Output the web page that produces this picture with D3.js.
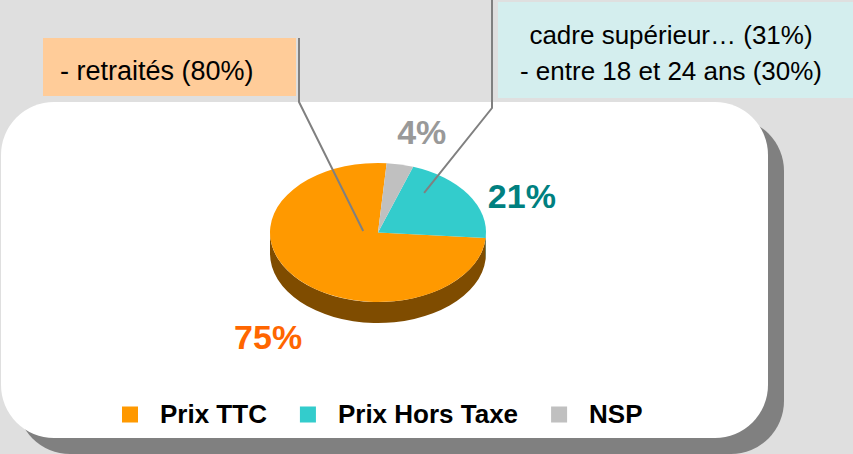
<!DOCTYPE html>
<html>
<head>
<meta charset="utf-8">
<script src="https://cdn.jsdelivr.net/npm/d3@7"></script>
<style>
  body { margin: 0; background: #dfdfdf; overflow: hidden; }
  svg { display: block; }
</style>
</head>
<body>
<div id="chart"></div>
<script>
// Data
const categories = ['Prix TTC', 'Prix Hors Taxe', 'NSP']
const values = [75, 21, 4]
const valueLabels = ['75%', '21%', '4%']
const orangeNote = ['- retraités (80%)']
const tealNote = ['cadre supérieur… (31%)', '- entre 18 et 24 ans (30%)']

// Colors
const topColors = ['#ff9900', '#33cccc', '#c0c0c0']
const sideColors = ['#7f4c00', '#1a6666', '#606060']
const labelColors = ['#ff6600', '#008080', '#999999']

function draw() {
  const dims = { width: 853, height: 454 }
  const font = "'Liberation Sans', Arial, sans-serif"

  const svg = d3.select('#chart')
    .append('svg')
    .attr('width', dims.width)
    .attr('height', dims.height)

  svg.append('rect')
    .attr('width', dims.width)
    .attr('height', dims.height)
    .attr('fill', '#dfdfdf')

  // panel + shadow
  const panel = { x: 1, y: 102, w: 767, h: 336, r: 53, off: 16 }
  svg.append('rect')
    .attr('x', panel.x + panel.off).attr('y', panel.y + panel.off)
    .attr('width', panel.w).attr('height', panel.h)
    .attr('rx', panel.r)
    .attr('fill', '#808080')
  svg.append('rect')
    .attr('x', panel.x).attr('y', panel.y)
    .attr('width', panel.w).attr('height', panel.h)
    .attr('rx', panel.r)
    .attr('fill', '#ffffff')

  // note boxes
  svg.append('rect')
    .attr('x', 43).attr('y', 38).attr('width', 253).attr('height', 58)
    .attr('fill', '#ffcc99')
  svg.append('text')
    .attr('x', 60).attr('y', 80)
    .style('font-family', font)
    .style('font-size', '27px')
    .attr('fill', '#000')
    .text(orangeNote[0])

  svg.append('rect')
    .attr('x', 498).attr('y', 2).attr('width', 360).attr('height', 96)
    .attr('fill', '#d4eeee')
  svg.append('g')
    .selectAll('text')
    .data(tealNote)
    .join('text')
    .attr('x', 671)
    .attr('y', (d, i) => 44 + i * 36)
    .attr('text-anchor', 'middle')
    .style('font-family', font)
    .style('font-size', '26px')
    .attr('fill', '#000')
    .text(d => d)

  // 3D pie
  const pie3d = { cx: 378, cy: 232.5, rx: 108, ry: 69.5, depth: 21 }
  const k = pie3d.ry / pie3d.rx

  const pie = d3.pie()
    .value(d => d)
    .sort(null)
    .startAngle(2 * Math.PI + 4.6 * Math.PI / 180)
    .endAngle(4.6 * Math.PI / 180)

  const slices = pie(values)
  // normalise so a0 < a1 (angles 0 at top, clockwise)
  const norm = slices.map((s, i) => ({
    i,
    a0: Math.min(s.startAngle, s.endAngle),
    a1: Math.max(s.startAngle, s.endAngle)
  }))

  const arc = d3.arc().innerRadius(0).outerRadius(pie3d.rx)

  const pieG = svg.append('g')
    .attr('transform', `translate(${pie3d.cx}, ${pie3d.cy}) scale(1, ${k})`)

  // side walls, only the front half (PI/2 .. 3PI/2) shows
  const dz = pie3d.depth / k
  norm.forEach(s => {
    [0, -2 * Math.PI].forEach(shift => {
      const a = Math.max(s.a0 + shift, Math.PI / 2)
      const b = Math.min(s.a1 + shift, 3 * Math.PI / 2)
      if (b <= a) return
      const r = pie3d.rx
      const p = d3.path()
      p.moveTo(r * Math.sin(a), -r * Math.cos(a))
      p.arc(0, 0, r, a - Math.PI / 2, b - Math.PI / 2, false)
      p.lineTo(r * Math.sin(b), -r * Math.cos(b) + dz)
      p.arc(0, dz, r, b - Math.PI / 2, a - Math.PI / 2, true)
      p.closePath()
      pieG.append('path')
        .attr('d', p.toString())
        .attr('fill', sideColors[s.i])
    })
  })

  pieG.selectAll('path.top')
    .data(slices)
    .join('path')
    .attr('class', 'top')
    .attr('d', arc)
    .attr('fill', (d, i) => topColors[i])

  // value labels
  const labelArc = d3.arc().innerRadius(160).outerRadius(160)
  const labelNudge = [[12, 38], [10, 20], [11, 0]]
  svg.append('g')
    .selectAll('text')
    .data(slices)
    .join('text')
    .attr('x', (d, i) => pie3d.cx + labelArc.centroid(d)[0] + labelNudge[i][0])
    .attr('y', (d, i) => pie3d.cy + labelArc.centroid(d)[1] * k + labelNudge[i][1])
    .attr('text-anchor', 'middle')
    .attr('dy', '0.36em')
    .style('font-family', font)
    .style('font-weight', 'bold')
    .style('font-size', '34px')
    .attr('fill', (d, i) => labelColors[i])
    .text((d, i) => valueLabels[i])

  // leader lines
  const onPie = (deg, r) => {
    const a = deg * Math.PI / 180
    return [pie3d.cx + r * Math.sin(a), pie3d.cy - r * Math.cos(a) * k]
  }
  const leaders = [
    [[299, 38], [299, 102], onPie(279, 15)],
    [[492, 0], [492, 108], onPie(36.8, 77)]
  ]
  svg.append('g')
    .selectAll('path')
    .data(leaders)
    .join('path')
    .attr('d', d3.line())
    .attr('fill', 'none')
    .attr('stroke', '#808080')
    .attr('stroke-width', 2)

  // legend
  const legend = svg.append('g').attr('transform', 'translate(122, 0)')
  let lx = 0
  categories.forEach((c, i) => {
    legend.append('rect')
      .attr('x', lx).attr('y', 406.5)
      .attr('width', 16).attr('height', 16)
      .attr('fill', topColors[i])
    const t = legend.append('text')
      .attr('x', lx + 38).attr('y', 422.5)
      .style('font-family', font)
      .style('font-weight', 'bold')
      .style('font-size', '26px')
      .attr('fill', '#000')
      .text(c)
    lx += 38 + t.node().getComputedTextLength() + 33
  })
}

draw()
</script>
</body>
</html>
